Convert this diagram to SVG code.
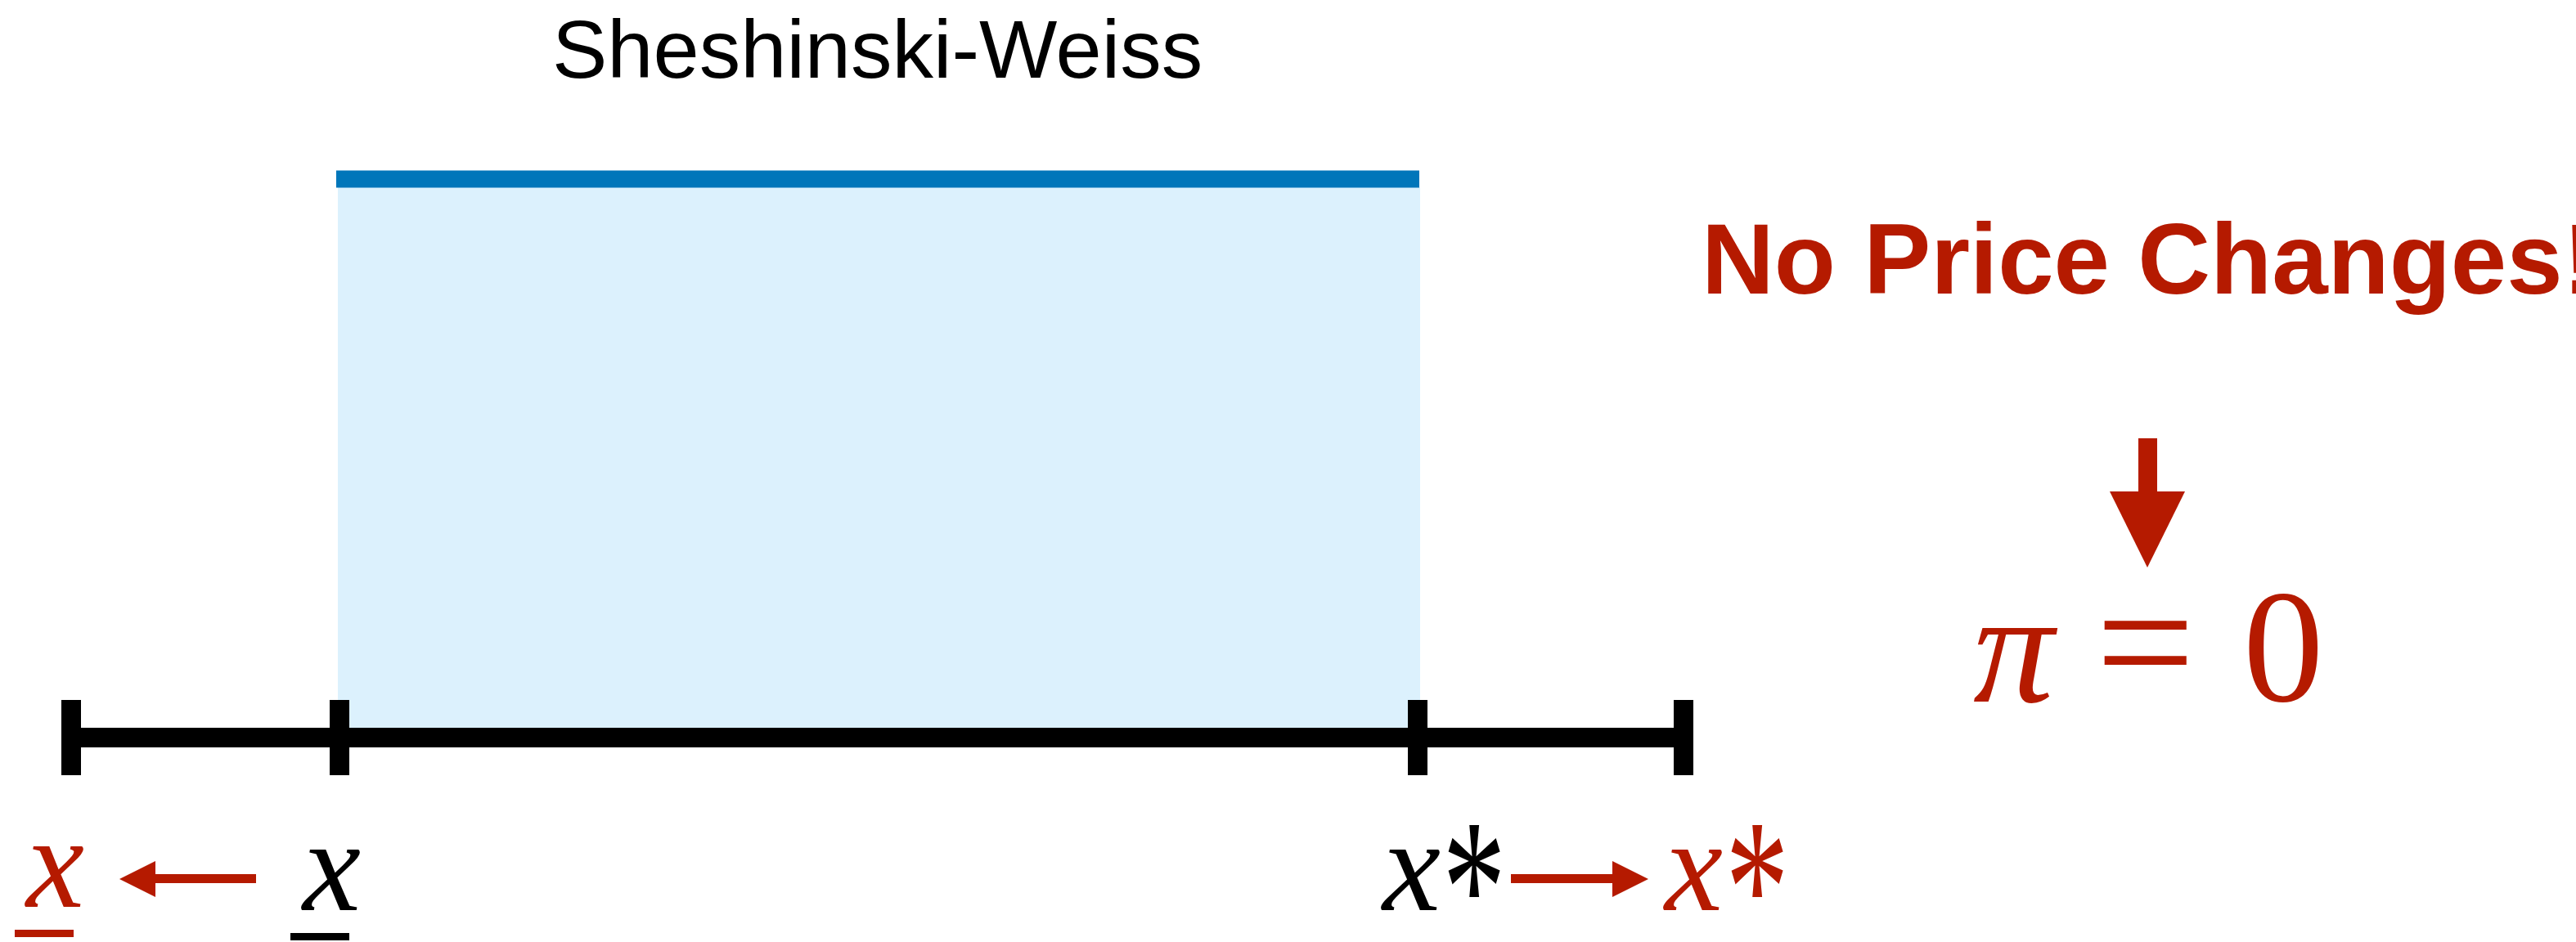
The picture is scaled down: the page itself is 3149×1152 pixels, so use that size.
<svg xmlns="http://www.w3.org/2000/svg" width="3149" height="1152" viewBox="0 0 3149 1152">
<style>
.red{fill:#B51A00}
.blk{fill:#000}
.serif{font-family:"Liberation Serif","Times New Roman",serif}
.it{font-style:italic}
.sans{font-family:"Liberation Sans",Arial,sans-serif}
</style>
<rect width="3149" height="1152" fill="#fff"/>
<g id="region">
  <rect x="413" y="229" width="1323" height="662" fill="#DCF1FD"/>
  <rect x="411" y="208.5" width="1324" height="21" fill="#0076BA"/>
</g>
<g id="title">
  <text class="sans" x="675" y="95" font-size="101" fill="#000">Sheshinski-Weiss</text>
</g>
<g id="axis">
  <rect x="75" y="890" width="1995" height="24" fill="#000"/>
  <rect x="75" y="856" width="24" height="92" fill="#000"/>
  <rect x="403" y="856" width="24" height="92" fill="#000"/>
  <rect x="1721" y="856" width="24" height="92" fill="#000"/>
  <rect x="2046" y="856" width="24" height="92" fill="#000"/>
</g>
<g id="label-xlow-new">
  <text class="serif it red" x="32" y="1109" font-size="160">x</text>
  <rect x="18" y="1137" width="72" height="9" class="red"/>
</g>
<g id="label-xlow">
  <text class="serif it blk" x="370" y="1113" font-size="160">x</text>
  <rect x="355" y="1141" width="72" height="9" class="blk"/>
</g>
<g id="label-xstar">
  <text class="serif it blk" x="1690" y="1113" font-size="160">x</text>
  <text class="serif blk" x="1763" y="1166" font-size="240" textLength="78" lengthAdjust="spacingAndGlyphs">*</text>
</g>
<g id="label-xstar-new">
  <text class="serif it red" x="2035" y="1113" font-size="160">x</text>
  <text class="serif red" x="2109" y="1166" font-size="240" textLength="78" lengthAdjust="spacingAndGlyphs">*</text>
</g>
<g id="headline">
  <text class="sans red" x="2080" y="359" font-size="123" font-weight="bold">No Price Changes!</text>
</g>
<g id="result">
  <text class="serif it red" x="2412" y="858" font-size="197">π</text>
  <text class="serif red" x="2562" y="857" font-size="215">=</text>
  <text class="serif red" x="2742" y="857" font-size="197">0</text>
</g>
<g id="connectors">
  <rect x="190" y="1069" width="123" height="11" class="red"/>
  <polygon points="190,1053 146,1075 190,1097" class="red"/>
  <rect x="1847" y="1069" width="124" height="11" class="red"/>
  <polygon points="1971,1053 2015,1075 1971,1097" class="red"/>
  <rect x="2614" y="536" width="23" height="66" class="red"/>
  <polygon points="2579,601 2671,601 2625,694" class="red"/>
</g>
</svg>
